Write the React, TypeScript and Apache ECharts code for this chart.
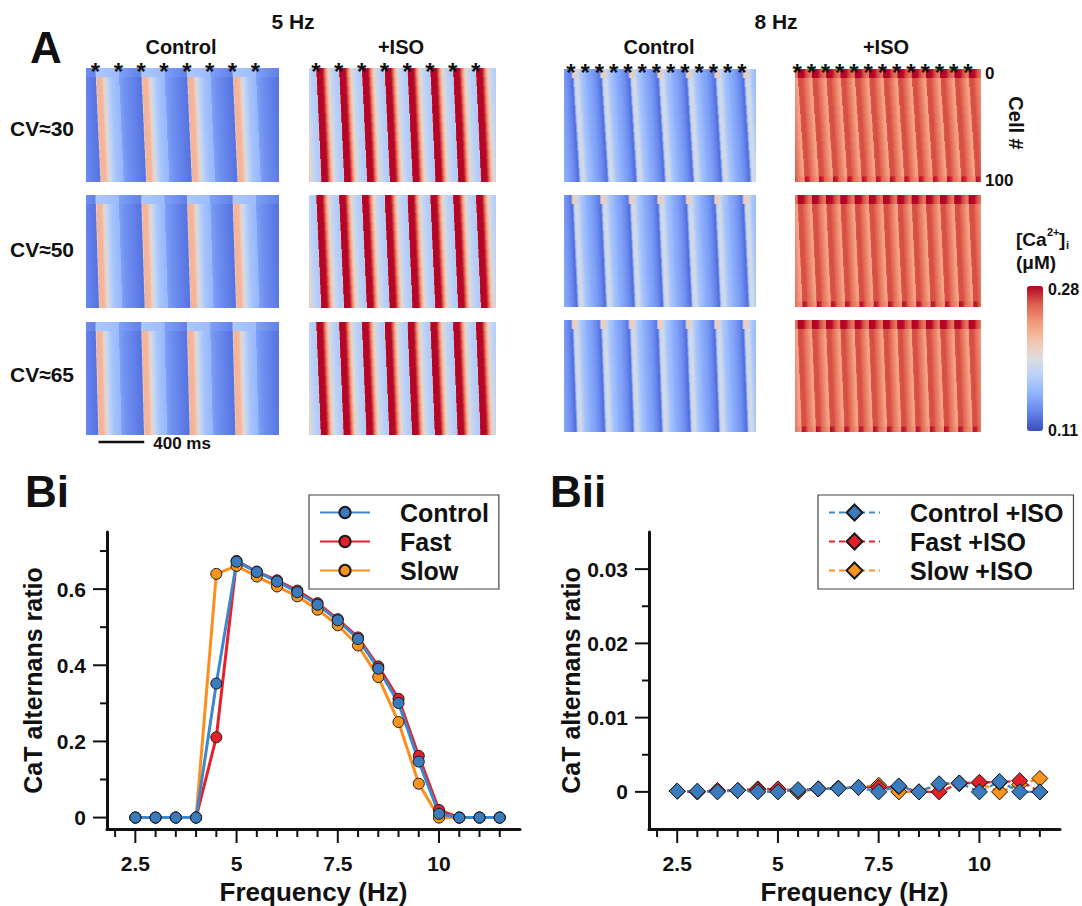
import React, { useEffect, useRef } from 'react';
import * as echarts from 'echarts';

const FONT = '"Liberation Sans", Arial, Helvetica, sans-serif';
const INK = '#111111';

// ---------------- Panel A : [Ca2+]i space-time maps ----------------
const CA_MIN = 0.11;
const CA_MAX = 0.28;
const CA_COLORS = ['#3b4cc0', '#6282ea', '#8db0fe', '#b8d0f9', '#dddddd', '#f5c4ac', '#f4987a', '#de604d', '#b40426'];
const CELL_BANDS = [0, 8, 16, 24, 32, 40, 48, 56, 64, 72, 80, 88, 95, 100];

// stimulus times (ms) inside each recording window (the asterisks)
const STIM_5HZ_CONTROL = [83, 283, 483, 683, 883, 1083, 1283, 1483];
const STIM_5HZ_ISO = [61, 261, 461, 661, 861, 1061, 1261, 1461];
const STIM_8HZ_CONTROL = [61, 186, 311, 436, 561, 686, 811, 936, 1061, 1186, 1311, 1436, 1561];
const STIM_8HZ_ISO = [18, 143, 268, 393, 518, 643, 768, 893, 1018, 1143, 1268, 1393, 1518];
// beat type: L = large transient, S = small transient (alternans)
const BEAT_5HZ_CONTROL = ['L', 'S', 'L', 'S', 'L', 'S', 'L', 'S'];
const BEAT_5HZ_ISO = ['L', 'L', 'L', 'L', 'L', 'L', 'L', 'L'];
const BEAT_8HZ_CONTROL = ['L', 'S', 'L', 'S', 'L', 'S', 'L', 'S', 'L', 'S', 'L', 'S', 'L'];
const BEAT_8HZ_ISO = ['L', 'L', 'L', 'L', 'L', 'L', 'L', 'L', 'L', 'L', 'L', 'L', 'L'];
const WINDOW_MS = [1690, 1640, 1684, 1632];
// conduction delay from cell 0 to cell 100 (ms) for CV≈30, 50, 65
const DELAY_5HZ_CONTROL = [44, 31, 25];
const DELAY_5HZ_ISO = [46, 44, 40];
const DELAY_8HZ_CONTROL = [61, 45, 36];
const DELAY_8HZ_ISO = [65, 45, 38];
const CV_LABELS = ['CV\u224830', 'CV\u224850', 'CV\u224865'];

// [Ca2+]i (uM) versus time since local activation (ms)
const P5C_LARGE = [[0, 0.195], [4, 0.205], [9, 0.225], [48, 0.223], [62, 0.207], [82, 0.19], [104, 0.176], [135, 0.165], [200, 0.156]];
const P5C_LARGE_TOP = [[0, 0.185], [6, 0.168], [200, 0.16]];
const P5C_SMALL = [[0, 0.165], [5, 0.145], [40, 0.139], [120, 0.131], [200, 0.124]];
const P5C_SMALL_TOP = [[0, 0.16], [6, 0.145], [200, 0.13]];
const P5I = [[0, 0.2], [3, 0.27], [7, 0.28], [52, 0.279], [64, 0.265], [76, 0.245], [90, 0.222], [106, 0.2], [126, 0.184], [160, 0.173], [200, 0.168]];
const P8C_LARGE = [[0, 0.124], [8, 0.124], [22, 0.17], [32, 0.188], [55, 0.188], [70, 0.172], [95, 0.162], [125, 0.157]];
const P8C_LARGE_TOP = [[0, 0.14], [15, 0.205], [40, 0.21], [55, 0.185], [80, 0.168], [125, 0.157]];
const P8C_SMALL = [[0, 0.155], [50, 0.145], [90, 0.135], [115, 0.126], [125, 0.122]];
const P8I = [[0, 0.235], [5, 0.262], [35, 0.263], [55, 0.255], [80, 0.245], [105, 0.233], [125, 0.228]];
const P8I_TOP = [[0, 0.255], [6, 0.28], [50, 0.279], [70, 0.265], [100, 0.252], [125, 0.248]];
const P8I_BOT = [[0, 0.245], [6, 0.278], [35, 0.272], [55, 0.255], [125, 0.232]];

// ---------------- Panel B : alternans ratio ----------------
const FREQ = [2.5, 3, 3.5, 4, 4.5, 5, 5.5, 6, 6.5, 7, 7.5, 8, 8.5, 9, 9.5, 10, 10.5, 11, 11.5];
const CONTROL = [0, 0, 0, 0, 0.352, 0.672, 0.645, 0.62, 0.592, 0.559, 0.518, 0.469, 0.391, 0.301, 0.147, 0.01, 0, 0, 0];
const FAST = [0, 0, 0, 0, 0.211, 0.674, 0.646, 0.623, 0.596, 0.563, 0.521, 0.473, 0.397, 0.312, 0.162, 0.02, 0, 0, 0];
const SLOW = [0, 0, 0, 0, 0.64, 0.661, 0.633, 0.607, 0.581, 0.546, 0.505, 0.452, 0.369, 0.251, 0.089, 0, 0, 0, 0];
const CONTROL_ISO = [0.0001, 0.0001, 0, 0.0002, 0, 0, 0.0003, 0.0004, 0.00045, 0.0006, 0, 0.0008, 0, 0.0011, 0.0012, 0, 0.0014, 0, 0];
const FAST_ISO = [0.0001, 0, 0.0002, 0.0002, 0.0003, 0.0004, 0.0002, 0.0004, 0.0005, 0.0006, 0.0006, 0.0007, 0, 0, 0.0011, 0.0013, 0.0013, 0.0015, 0];
const SLOW_ISO = [0.0001, 0, 0.0001, 0.0002, 0.0004, 0.0003, 0, 0.0004, 0.0005, 0.0006, 0.0009, 0, 0, 0.001, 0.0012, 0.0012, 0, 0.001, 0.0018];
const X_MAJOR = [2.5, 5, 7.5, 10];
const X_MINOR = [2, 3, 3.5, 4, 4.5, 5.5, 6, 6.5, 7, 8, 8.5, 9, 9.5, 10.5, 11, 11.5];
const BI_Y_MAJOR = [0, 0.2, 0.4, 0.6];
const BI_Y_MINOR = [0.1, 0.3, 0.5, 0.7];
const BII_Y_MAJOR = [0, 0.01, 0.02, 0.03];
const BII_Y_MINOR = [0.005, 0.015, 0.025];

// ---------------- layout ----------------
const PANEL_LEFT = [86, 309, 564, 795];
const PANEL_WIDTH = [193, 187, 192, 186];
const ROW_TOP = [[68, 195, 322], [68, 195, 322], [69, 195, 320], [69, 195, 320]];
const ROW_H = [[114, 113, 113], [114, 113, 113], [113, 112, 112], [113, 112, 112]];

const REGISTRY: number[][][] = [];
function reg(p: number[][]) {
  let i = REGISTRY.indexOf(p);
  if (i < 0) { REGISTRY.push(p); i = REGISTRY.length - 1; }
  return i;
}

function profileAt(p: number[][], t: number) {
  if (t <= p[0][0]) return p[0][1];
  for (let i = 1; i < p.length; i++) {
    if (t <= p[i][0]) {
      const f = (t - p[i - 1][0]) / (p[i][0] - p[i - 1][0]);
      return p[i - 1][1] + f * (p[i][1] - p[i - 1][1]);
    }
  }
  return p[p.length - 1][1];
}

function hexToRgb(h: string) {
  const n = parseInt(h.slice(1), 16);
  return [(n >> 16) & 255, (n >> 8) & 255, n & 255];
}
function caColor(v: number) {
  const n = Math.max(0, Math.min(1, (v - CA_MIN) / (CA_MAX - CA_MIN)));
  const lib: any = (echarts as any).color;
  if (lib && lib.lerp) return lib.lerp(n, CA_COLORS);
  const s = n * (CA_COLORS.length - 1);
  const i = Math.min(CA_COLORS.length - 2, Math.floor(s));
  const f = s - i;
  const a = hexToRgb(CA_COLORS[i]);
  const b = hexToRgb(CA_COLORS[i + 1]);
  return `rgb(${a.map((x, k) => Math.round(x + f * (b[k] - x))).join(',')})`;
}

type Cond = {
  stims: number[]; beats: string[]; prev: string; period: number; delays: number[];
  prof: Record<string, number[][][]>;
};

const CONDS: Cond[] = [
  { stims: STIM_5HZ_CONTROL, beats: BEAT_5HZ_CONTROL, prev: 'S', period: 200, delays: DELAY_5HZ_CONTROL,
    prof: { L: [P5C_LARGE_TOP, P5C_LARGE, P5C_LARGE], S: [P5C_SMALL_TOP, P5C_SMALL, P5C_SMALL] } },
  { stims: STIM_5HZ_ISO, beats: BEAT_5HZ_ISO, prev: 'L', period: 200, delays: DELAY_5HZ_ISO,
    prof: { L: [P5I, P5I, P5I] } },
  { stims: STIM_8HZ_CONTROL, beats: BEAT_8HZ_CONTROL, prev: 'S', period: 125, delays: DELAY_8HZ_CONTROL,
    prof: { L: [P8C_LARGE_TOP, P8C_LARGE, P8C_LARGE], S: [P8C_SMALL, P8C_SMALL, P8C_SMALL] } },
  { stims: STIM_8HZ_ISO, beats: BEAT_8HZ_ISO, prev: 'L', period: 125, delays: DELAY_8HZ_ISO,
    prof: { L: [P8I_TOP, P8I, P8I_BOT] } },
];

function buildHeatData(c: Cond, row: number) {
  const delay = c.delays[row];
  const times = [c.stims[0] - c.period, ...c.stims];
  const types = [c.prev, ...c.beats];
  const out: number[][] = [];
  for (let b = 0; b < CELL_BANDS.length - 1; b++) {
    const c0 = CELL_BANDS[b];
    const c1 = CELL_BANDS[b + 1];
    const mid = (c0 + c1) / 2;
    const kind = b === 0 ? 0 : b === CELL_BANDS.length - 2 ? 2 : 1;
    for (let k = 0; k < times.length; k++) {
      const start = times[k] + (delay * mid) / 100;
      const end = (k + 1 < times.length ? times[k + 1] : times[k] + c.period) + (delay * mid) / 100;
      const prof = c.prof[types[k]][kind];
      out.push([start, end, c0, c1, reg(prof)]);
    }
  }
  return out;
}

const heatRender = (params: any, api: any) => {
  const t0 = api.value(0);
  const t1 = api.value(1);
  const c0 = api.value(2);
  const c1 = api.value(3);
  const prof = REGISTRY[api.value(4)];
  const a = api.coord([t0, c0]);
  const b = api.coord([t1, c1]);
  const dur = t1 - t0;
  const stops: any[] = [];
  for (const [tau, v] of prof) {
    if (tau < dur) stops.push({ offset: tau / dur, color: caColor(v) });
  }
  stops.push({ offset: 1, color: caColor(profileAt(prof, dur)) });
  return {
    type: 'rect',
    shape: { x: a[0], y: Math.min(a[1], b[1]), width: b[0] - a[0] + 1, height: Math.abs(b[1] - a[1]) + 1 },
    style: { fill: new echarts.graphic.LinearGradient(0, 0, 1, 0, stops) },
  };
};

function txt(text: string, x: number, y: number, size: number, align = 'center', extra: any = {}) {
  return {
    type: 'text', x, y, ...extra,
    style: {
      text, font: `bold ${size}px ${FONT}`, fill: INK,
      align, verticalAlign: 'middle', textAlign: align, textVerticalAlign: 'middle',
    },
  };
}

function buildOption() {
  const grid: any[] = [];
  const xAxis: any[] = [];
  const yAxis: any[] = [];
  const series: any[] = [];

  for (let r = 0; r < 3; r++) {
    for (let col = 0; col < 4; col++) {
      const gi = r * 4 + col;
      grid.push({ left: PANEL_LEFT[col], top: ROW_TOP[col][r], width: PANEL_WIDTH[col], height: ROW_H[col][r] });
      xAxis.push({ gridIndex: gi, type: 'value', min: 0, max: WINDOW_MS[col], show: false });
      yAxis.push({ gridIndex: gi, type: 'value', min: 0, max: 100, inverse: true, show: false });
      series.push({
        type: 'custom', xAxisIndex: gi, yAxisIndex: gi, clip: true, silent: true,
        data: buildHeatData(CONDS[col], r), renderItem: heatRender,
      });
    }
  }
  // asterisks marking stimuli
  for (let col = 0; col < 4; col++) {
    series.push({
      type: 'custom', xAxisIndex: col, yAxisIndex: col, clip: false, silent: true,
      data: CONDS[col].stims.map((t) => [t, 0]),
      renderItem: (p: any, api: any) => {
        const c = api.coord([api.value(0), 0]);
        return {
          type: 'text', x: c[0], y: c[1] + 3,
          style: { text: '*', font: `bold 24px ${FONT}`, fill: INK, align: 'center', verticalAlign: 'middle', textAlign: 'center', textVerticalAlign: 'middle' },
        };
      },
    });
  }
  // 400 ms scale bar under the 5 Hz control CV≈65 map
  series.push({
    type: 'custom', xAxisIndex: 8, yAxisIndex: 8, clip: false, silent: true,
    data: [[110, 400]],
    renderItem: (p: any, api: any) => {
      const t = api.value(0);
      const len = api.value(1);
      const a = api.coord([t, 100]);
      const b = api.coord([t + len, 100]);
      const y = a[1] + 7;
      return {
        type: 'group',
        children: [
          { type: 'line', shape: { x1: a[0], y1: y, x2: b[0], y2: y }, style: { stroke: INK, lineWidth: 2.5 } },
          { type: 'text', x: b[0] + 9, y: y + 1, style: { text: '400 ms', font: `bold 17px ${FONT}`, fill: INK, align: 'left', verticalAlign: 'middle', textAlign: 'left', textVerticalAlign: 'middle' } },
        ],
      };
    },
  });
  const dummyIndex = series.length;
  series.push({ type: 'scatter', xAxisIndex: 0, yAxisIndex: 0, data: [], silent: true });

  // ---------- Panel B grids ----------
  const axisLine = { show: true, onZero: false, lineStyle: { color: INK, width: 3 } };
  const labelStyle = { fontSize: 21, fontWeight: 'bold', color: INK, fontFamily: FONT };
  const nameStyle = { fontSize: 26, fontWeight: 'bold', color: INK, fontFamily: FONT };
  const yNameStyle = { fontSize: 25, fontWeight: 'bold', color: INK, fontFamily: FONT };
  const bGrids = [
    { left: 107, top: 532, width: 413, height: 297, xMin: 1.8, yMin: -0.03, yMax: 0.75, major: BI_Y_MAJOR, minor: BI_Y_MINOR },
    { left: 649, top: 532, width: 411, height: 297, xMin: 1.8, yMin: -0.005, yMax: 0.035, major: BII_Y_MAJOR, minor: BII_Y_MINOR },
  ];
  const bAxisIdx: number[] = [];
  bGrids.forEach((g) => {
    const gi = grid.length;
    grid.push({ left: g.left, top: g.top, width: g.width, height: g.height });
    const ai = xAxis.length;
    bAxisIdx.push(ai);
    xAxis.push({
      gridIndex: gi, type: 'value', min: g.xMin, max: 12, position: 'bottom',
      axisLine, splitLine: { show: false },
      axisTick: { show: false },
      axisLabel: { show: true, customValues: X_MAJOR, margin: 24, ...labelStyle },
      name: 'Frequency (Hz)', nameLocation: 'middle', nameGap: 50, nameTextStyle: nameStyle,
    });
    yAxis.push({
      gridIndex: gi, type: 'value', min: g.yMin, max: g.yMax, position: 'left',
      axisLine, splitLine: { show: false },
      axisTick: { show: false },
      axisLabel: { show: true, customValues: g.major, margin: 21, ...labelStyle },
      name: 'CaT alternans ratio', nameLocation: 'middle', nameGap: 62, nameRotate: 90, nameTextStyle: yNameStyle,
    });
    // tick marks, placed through the axes' own scales: [axis (0 = x, 1 = y), value, length]
    const ticks: number[][] = [
      ...X_MAJOR.map((v) => [0, v, 14]),
      ...X_MINOR.map((v) => [0, v, 8]),
      ...g.major.map((v) => [1, v, 14]),
      ...g.minor.map((v) => [1, v, 7]),
    ];
    series.push({
      type: 'custom', xAxisIndex: ai, yAxisIndex: ai, clip: false, silent: true, z: 5,
      data: ticks,
      renderItem: (p: any, api: any) => {
        const dir = api.value(0);
        const v = api.value(1);
        const len = api.value(2);
        if (dir === 0) {
          const c = api.coord([v, g.yMin]);
          return { type: 'line', shape: { x1: c[0], y1: c[1], x2: c[0], y2: c[1] + len }, style: { stroke: INK, lineWidth: 2 } };
        }
        const c = api.coord([g.xMin, v]);
        return { type: 'line', shape: { x1: c[0] - len, y1: c[1], x2: c[0], y2: c[1] }, style: { stroke: INK, lineWidth: 2 } };
      },
    });
  });

  const lineSeries = (name: string, vals: number[], line: string, fill: string, ai: number, dashed: boolean) => ({
    type: 'line', name, xAxisIndex: ai, yAxisIndex: ai,
    data: FREQ.map((f, i) => [f, vals[i]]),
    symbol: dashed ? 'diamond' : 'circle', symbolSize: dashed ? 16 : 11,
    lineStyle: { color: line, width: dashed ? 2.4 : 3, type: dashed ? [6, 4] : 'solid' },
    itemStyle: { color: fill, borderColor: '#1a1a1a', borderWidth: 1 },
    emphasis: { disabled: true }, silent: true,
  });
  const aBi = bAxisIdx[0];
  const aBii = bAxisIdx[1];
  series.push(lineSeries('Slow', SLOW, '#ff8d1c', '#f7941d', aBi, false));
  series.push(lineSeries('Fast', FAST, '#e8202a', '#e3202a', aBi, false));
  series.push(lineSeries('Control', CONTROL, '#3d88cc', '#3a7bbd', aBi, false));
  series.push(lineSeries('Slow +ISO', SLOW_ISO, '#ff8d1c', '#f7941d', aBii, true));
  series.push(lineSeries('Fast +ISO', FAST_ISO, '#e8202a', '#e3202a', aBii, true));
  series.push(lineSeries('Control +ISO', CONTROL_ISO, '#3d88cc', '#3a7bbd', aBii, true));

  const legendText = { fontSize: 25, fontWeight: 'bold', color: INK, fontFamily: FONT, padding: [0, 0, 0, 25] };
  const legend = [
    { left: 309, top: 495, orient: 'vertical', data: ['Control', 'Fast', 'Slow'], itemWidth: 50, itemHeight: 14, itemGap: 4,
      padding: [5, 10, 6, 10], borderColor: '#444', borderWidth: 1.2, textStyle: legendText, selectedMode: false },
    { left: 818, top: 495, orient: 'vertical', data: ['Control +ISO', 'Fast +ISO', 'Slow +ISO'], itemWidth: 51, itemHeight: 20, itemGap: 4,
      padding: [5, 10, 6, 10], borderColor: '#444', borderWidth: 1.2, textStyle: legendText, selectedMode: false },
  ];

  const graphicEls: any[] = [
    txt('A', 46, 47, 44),
    txt('5 Hz', 293, 21, 21),
    txt('8 Hz', 776, 21, 21),
    txt('Control', 181, 47, 20),
    txt('+ISO', 401, 47, 20),
    txt('Control', 659, 47, 20),
    txt('+ISO', 886, 47, 20),
    txt(CV_LABELS[0], 42, 128, 21),
    txt(CV_LABELS[1], 42, 249, 21),
    txt(CV_LABELS[2], 42, 374, 21),
    txt('0', 985, 73, 17, 'left'),
    txt('100', 985, 180, 17, 'left'),
    txt('Cell #', 1016, 123, 20, 'center', { rotation: -Math.PI / 2 }),
    txt('[Ca', 1016, 239, 19, 'left'),
    txt('2+', 1047, 232, 11, 'left'),
    txt(']', 1059, 239, 19, 'left'),
    txt('i', 1066, 245, 11, 'left'),
    txt('(\u03bcM)', 1016, 262, 19, 'left'),
    txt('0.28', 1048, 289, 16, 'left'),
    txt('0.11', 1048, 430, 16, 'left'),
    txt('Bi', 47, 491, 44),
    txt('Bii', 578, 491, 44),
  ];

  return {
    animation: false,
    backgroundColor: '#ffffff',
    textStyle: { fontFamily: FONT },
    grid, xAxis, yAxis, series, legend,
    visualMap: {
      type: 'continuous', min: CA_MIN, max: CA_MAX, orient: 'vertical',
      left: 1027, top: 286, itemWidth: 16, itemHeight: 145, padding: 0,
      calculable: false, realtime: false, seriesIndex: dummyIndex,
      inRange: { color: CA_COLORS }, showLabel: false,
    },
    graphic: { elements: graphicEls },
  };
}

export default function App() {
  const ref = useRef<HTMLDivElement>(null);
  useEffect(() => {
    if (!ref.current) return;
    const chart = echarts.init(ref.current, null, { renderer: 'svg' });
    chart.setOption(buildOption() as any);
    return () => chart.dispose();
  }, []);
  return (
    <div
      ref={ref}
      style={{ position: 'absolute', left: 0, top: 0, width: 1082, height: 906, background: '#ffffff' }}
    />
  );
}
